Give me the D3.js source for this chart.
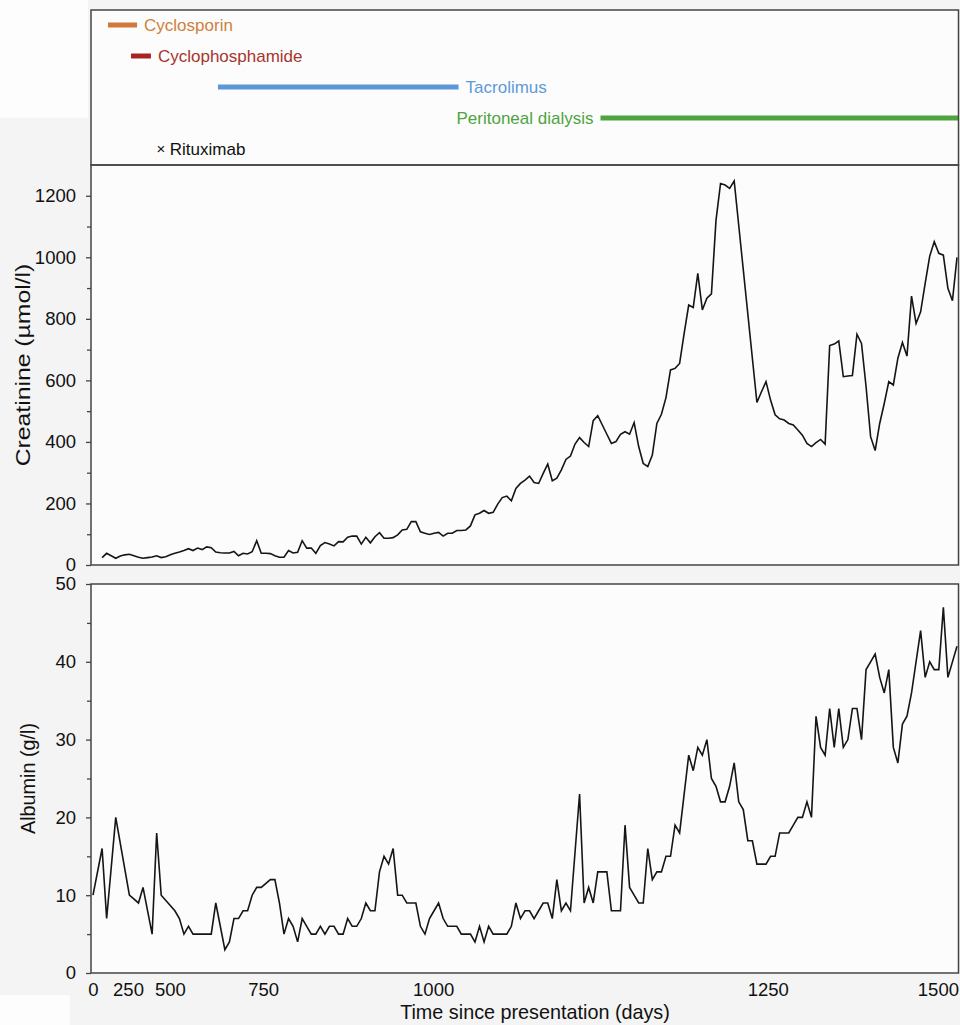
<!DOCTYPE html>
<html>
<head>
<meta charset="utf-8">
<script src="https://cdn.jsdelivr.net/npm/d3@7"></script>
<style>
  body { margin: 0; background: #f4f4f4; }
  svg { display: block; }
  text { font-family: "Liberation Sans", Arial, Helvetica, sans-serif; }
</style>
</head>
<body>
<svg id="chart" width="960" height="1025"></svg>
<script>
// ---- Data ---------------------------------------------------------------
// Laboratory results by visit (sample number); null = not measured at that visit.
const creatinine = [
  null, null, 24, 38, 30, 22, 29, 33, 35, 30, 25, 22, 24, 26, 30, 24, 27, 33, 38, 42,
  47, 53, 47, 55, 50, 59, 56, 42, 40, 39, 39, 44, 30, 38, 36, 43, 79, 38, 38, 37,
  30, 25, 25, 47, 39, 41, 79, 55, 55, 38, 63, 73, 68, 62, 76, 75, 90, 94, 94, 68,
  90, 72, 92, 105, 87, 87, 89, 98, 114, 116, 141, 141, 108, 103, 99, 103, 106, 94, 103, 103,
  112, 112, 114, 127, 163, 168, 177, 168, 171, 198, 219, 224, 209, 249, 265, 276, 289, 268, 265, 298,
  328, 274, 282, 309, 343, 354, 393, 414, 398, 385, 469, 485, 455, 425, 395, 401, 425, 433, 425, 463,
  385, 330, 320, 357, 460, 490, 544, 634, 639, 655, 753, 845, 837, 948, 829, 867, 881, 1120, 1240, 1235,
  1224, 1248, null, null, null, null, 528, 563, 596, 536, 488, 475, 471, 460, 455, 439, 422, 395, 385, 398,
  408, 393, 713, 718, 728, 612, 614, 616, 750, 720, 580, 417, 372, 460, 525, 596, 585, 672, 723, 679,
  874, 785, 823, 915, 1004, 1051, 1013, 1007, 899, 859, 1000
];

const albumin = [
  10, null, 16, 7, null, 20, null, null, 10, null, 9, 11, null, 5, 18, 10, null, null, 8, 7,
  5, 6, 5, 5, 5, 5, 5, 9, null, 3, 4, 7, 7, 8, 8, 10, 11, 11, null, 12,
  12, 9, 5, 7, 6, 4, 7, 6, 5, 5, 6, 5, 6, 6, 5, 5, 7, 6, 6, 7,
  9, 8, 8, 13, 15, 14, 16, 10, 10, 9, 9, 9, 6, 5, 7, 8, 9, 7, 6, 6,
  6, 5, 5, 5, 4, 6, 4, 6, 5, 5, 5, 5, 6, 9, 7, 8, 8, 7, 8, 9,
  9, 7, 12, 8, 9, 8, null, 23, 9, 11, 9, 13, 13, 13, 8, 8, 8, 19, 11, 10,
  9, 9, 16, 12, 13, 13, 15, 15, 19, 18, null, 28, 26, 29, 28, 30, 25, 24, 22, 22,
  24, 27, 22, 21, 17, 17, 14, 14, 14, 15, 15, 18, 18, 18, 19, 20, 20, 22, 20, 33,
  29, 28, 34, 29, 34, 29, 30, 34, 34, 30, 39, 40, 41, 38, 36, 39, 29, 27, 32, 33,
  36, null, 44, 38, 40, 39, 39, 47, 38, null, 42
];

// Day labels along the time axis and the visit at which each day falls
const dayTicks = [0, 250, 500, 750, 1000, 1250, 1500];
const dayTickVisit = [0, 7.7, 16.9, 37.4, 74.8, 148.4, 185.8];

// Treatment periods (days since presentation)
const treatmentNames = ["Cyclosporin", "Cyclophosphamide", "Tacrolimus", "Peritoneal dialysis"];
const treatmentStart = [107, 268, 629, 1125];
const treatmentEnd = [304, 387, 1019, 1545];
const rituximabDays = [446];

// Y-axis ticks
const creatinineTicks = [0, 200, 400, 600, 800, 1000, 1200];
const creatinineMinor = [100, 300, 500, 700, 900, 1100];
const albuminTicks = [0, 10, 20, 30, 40, 50];
const albuminMinor = [5, 15, 25, 35, 45];

// ---- Layout -------------------------------------------------------------
const L = 91, R = 958.5;
const topPanel = { y0: 10, y1: 165 };
const crPanel = { y0: 165, y1: 565 };
const alPanel = { y0: 584, y1: 973 };

const treatmentColors = ["#cf7a3a", "#a82424", "#5b98d8", "#4ea43f"];
const treatmentTextColors = ["#cf8040", "#a8352c", "#5c9bd8", "#4ea43f"];

const svg = d3.select("#chart");

// faint lighter margins
svg.append("rect").attr("x", 0).attr("y", 0).attr("width", 88).attr("height", 118).attr("fill", "#fdfdfd");
svg.append("rect").attr("x", 0).attr("y", 995).attr("width", 70).attr("height", 30).attr("fill", "#fdfdfd");

// ---- Scales -------------------------------------------------------------
const x = d3.scaleLinear().domain([0, creatinine.length - 1]).range([93, 957]);
const dayToVisit = d3.scaleLinear().domain(dayTicks).range(dayTickVisit);
const xDay = d => x(dayToVisit(d));

const yC = d3.scaleLinear().domain([0, 1300]).range([crPanel.y1, crPanel.y0]);
const yA = d3.scaleLinear().domain([0, 50]).range([alPanel.y1, alPanel.y0]);

// panel backgrounds
[topPanel, crPanel, alPanel].forEach(p => {
  svg.append("rect").attr("x", L).attr("y", p.y0).attr("width", R - L).attr("height", p.y1 - p.y0)
    .attr("fill", "#fcfcfc");
});

svg.append("clipPath").attr("id", "clipTop").append("rect")
  .attr("x", L).attr("y", topPanel.y0).attr("width", R - L).attr("height", topPanel.y1 - topPanel.y0);

// ---- Treatment timeline -------------------------------------------------
const rowY = d3.scalePoint().domain([...treatmentNames, "Rituximab"]).range([25, 149]);
const tl = svg.append("g").attr("clip-path", "url(#clipTop)");

treatmentNames.forEach((name, i) => {
  const y = rowY(name);
  const xs = xDay(treatmentStart[i]), xe = xDay(treatmentEnd[i]);
  tl.append("line").attr("x1", xs).attr("x2", xe).attr("y1", y).attr("y2", y)
    .attr("stroke", treatmentColors[i]).attr("stroke-width", 5);
  const labelLeft = name === "Peritoneal dialysis";
  tl.append("text")
    .attr("x", labelLeft ? xs - 7 : xe + 7)
    .attr("y", y).attr("dy", "0.36em")
    .attr("text-anchor", labelLeft ? "end" : "start")
    .attr("font-size", 17)
    .attr("fill", treatmentTextColors[i])
    .text(name);
});

rituximabDays.forEach(d => {
  const y = rowY("Rituximab");
  tl.append("text").attr("x", xDay(d)).attr("y", y).attr("dy", "0.33em")
    .attr("text-anchor", "middle").attr("font-size", 15).attr("fill", "#111").text("×");
});
tl.append("text").attr("x", xDay(rituximabDays[0]) + 9).attr("y", rowY("Rituximab")).attr("dy", "0.36em")
  .attr("font-size", 17).attr("fill", "#111").text("Rituximab");

// ---- Series -------------------------------------------------------------
function drawSeries(values, y) {
  const pts = values.map((v, i) => ({ i, v })).filter(d => d.v !== null);
  svg.append("path").datum(pts)
    .attr("fill", "none").attr("stroke", "#151515").attr("stroke-width", 1.6)
    .attr("stroke-linejoin", "miter")
    .attr("d", d3.line().x(d => x(d.i)).y(d => y(d.v)));
}
drawSeries(creatinine, yC);
drawSeries(albumin, yA);

// ---- Axes ---------------------------------------------------------------
function yAxis(scale, major, minor) {
  const g = svg.append("g").attr("transform", `translate(${L},0)`);
  g.call(d3.axisLeft(scale).tickValues(major).tickSize(5).tickPadding(10).tickFormat(d3.format("d")));
  g.append("g").call(d3.axisLeft(scale).tickValues(minor).tickSize(4).tickFormat(""));
  g.selectAll(".domain").remove();
  g.selectAll("line").attr("stroke", "#444").attr("stroke-width", 1.3);
  g.selectAll("text").attr("font-size", 18.5).attr("fill", "#111").attr("font-family", "Liberation Sans, Arial, sans-serif");
}
yAxis(yC, creatinineTicks, creatinineMinor);
yAxis(yA, albuminTicks, albuminMinor);

const xg = svg.append("g").attr("transform", `translate(0,${alPanel.y1})`)
  .call(d3.axisBottom(x).tickValues(dayTickVisit).tickSize(0).tickPadding(10)
    .tickFormat((d, i) => dayTicks[i]));
xg.select(".domain").remove();
xg.selectAll("text").attr("font-size", 18.5).attr("fill", "#111").attr("font-family", "Liberation Sans, Arial, sans-serif");

// panel borders
[topPanel, crPanel, alPanel].forEach(p => {
  svg.append("rect").attr("x", L).attr("y", p.y0).attr("width", R - L).attr("height", p.y1 - p.y0)
    .attr("fill", "none").attr("stroke", "#444").attr("stroke-width", 1.5);
});

// ---- Titles -------------------------------------------------------------
// the creatinine title is drawn stretched along its length, as in the taller panel
svg.append("text").attr("transform", `translate(30,${(crPanel.y0 + crPanel.y1) / 2}) rotate(-90) scale(1.25,1)`)
  .attr("text-anchor", "middle").attr("font-size", 19.8).attr("fill", "#111").text("Creatinine (µmol/l)");
svg.append("text").attr("transform", `translate(35,${(alPanel.y0 + alPanel.y1) / 2}) rotate(-90)`)
  .attr("text-anchor", "middle").attr("font-size", 19.8).attr("fill", "#111").text("Albumin (g/l)");
svg.append("text").attr("x", 535).attr("y", 1019)
  .attr("text-anchor", "middle").attr("font-size", 19.8).attr("fill", "#111").text("Time since presentation (days)");
</script>
</body>
</html>
